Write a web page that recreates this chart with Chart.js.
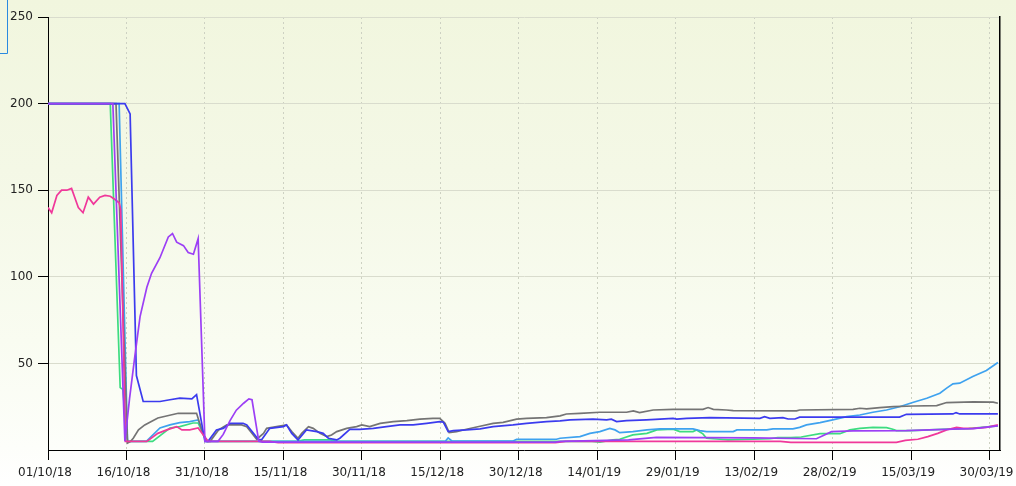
<!DOCTYPE html>
<html><head><meta charset="utf-8">
<script src="https://cdn.jsdelivr.net/npm/chart.js@4.4.0/dist/chart.umd.min.js"></script>
<style>
html,body{margin:0;padding:0;}
body{width:1016px;height:486px;overflow:hidden;background:linear-gradient(to bottom,#f1f6de 0%,#f4f8e6 35%,#f9fcf1 70%,#fdfefa 92%,#ffffff 100%);}
canvas{display:block;}
</style></head><body>
<canvas id="c" width="1016" height="486"></canvas>
<script>
// x values are days since 01/10/18
const tickDays = [0,15,30,45,60,75,90,105,120,135,150,165,180];
const tickLabels = ['01/10/18','16/10/18','31/10/18','15/11/18','30/11/18','15/12/18','30/12/18','14/01/19','29/01/19','13/02/19','28/02/19','15/03/19','30/03/19'];
const yTickValues = [0,50,100,150,200,250];

const purpleSeries = [[0,200],[12.4,200],[14.7,5],[15.6,30],[16.6,54],[17.6,77],[18.9,94],[19.8,102],[21.4,111],[23,123],[23.8,125],[24.6,120],[25.9,118],[26.8,114],[27.8,113],[28.7,122],[30,5],[32.5,5],[33.5,9],[34.8,17],[36,23],[37.4,27],[38.4,29.5],[39,29],[40.3,5],[41,4.5],[97,4.5],[98,5],[111,5.8],[116.3,7.3],[134.8,7],[146.9,6.5],[149.8,10.6],[153.9,11],[164.1,11.2],[173,12],[176.9,12.3],[181.6,13.9]];

const pinkSeries = [[0,140],[0.7,137],[1.7,147],[2.6,150],[3.6,150],[4.5,151],[5.8,140],[6.7,137],[7.7,146],[8.7,142],[9.9,146],[10.9,147],[11.9,146.5],[12.8,144.6],[13.6,142.7],[13.9,139],[14.8,5],[18.9,5],[21,9.6],[22.7,11.6],[24.6,13.5],[25.6,11.6],[27.1,11.6],[28.7,12.7],[30.6,5],[42.4,5],[44,4.2],[97,4.2],[99,5],[140,5],[142,4.4],[162.2,4.4],[163.9,5.6],[166.3,6.2],[168.2,7.7],[170.1,9.6],[171.8,11.6],[173.7,13.1],[175,12.5],[176.9,12.5],[179.4,13.1],[181.6,14.5]];

const blueSeries = [[0,200],[14.7,200],[15.7,194],[16.9,43],[18.2,28],[21.4,28],[23.3,29],[25.2,30],[27.5,29.5],[28.4,32],[30,5],[30.6,5],[32.2,11.6],[33.5,12.5],[34.8,15.4],[37.3,15.4],[38,14.5],[40.2,6.2],[40.8,5.8],[42.4,12.5],[45,13.5],[45.6,14.5],[46.6,9.6],[47.8,5.8],[49.4,11.6],[51.4,10.6],[52.6,9.6],[53.6,6.8],[55.2,5.8],[55.8,6.8],[57.7,11.9],[59.6,11.9],[62.2,12.5],[64.7,13.5],[67.3,14.5],[69.8,14.5],[72.4,15.4],[74.9,16.4],[75.6,16],[76.5,10.6],[77.5,11.2],[80,11.6],[82.6,12.2],[85.1,13.5],[88.9,14.5],[91.5,15.4],[95.3,16.4],[97.9,16.8],[99.8,17.4],[104.2,17.8],[106.8,17.4],[107.7,17.8],[108.7,16.4],[110.6,17],[114.4,17.4],[117,17.8],[119.5,18.3],[120.2,17.8],[122.1,18.3],[126.5,18.7],[136.1,18.3],[137,19.2],[138,18.3],[140.5,18.7],[141.5,17.9],[142.8,17.9],[143.7,19],[162.8,19],[164.1,20.6],[173,20.8],[173.6,21.6],[174.3,20.8],[181.6,20.8]];

const graySeries = [[0,200],[13,200],[15.2,4],[15.8,5],[16.3,6.8],[17.3,11.6],[18.5,14.5],[21,18.5],[24.9,21.2],[28.4,21.2],[29.7,8.7],[30.5,5],[31,5],[32.6,11.6],[34.2,14.5],[37,14.5],[38,13.5],[39.9,6.2],[41.2,9.6],[41.8,12.5],[43.7,13.5],[45.6,14.5],[46.6,10.6],[47.8,6.8],[48.5,9.6],[49.8,13.5],[50.7,12.5],[52,9.6],[53.3,7.7],[54.2,8.7],[55.2,10.6],[57.1,12.5],[59,13.5],[60,14.5],[61.5,13.5],[63.5,15.4],[66,16.4],[68.6,17],[71.1,17.8],[73.6,18.3],[74.9,18.3],[75.9,15.4],[76.7,10],[78.1,10.6],[80,12],[82.6,13.7],[85.1,15.4],[87,16],[89.6,17.8],[91.5,18.3],[95.3,18.7],[97.9,19.7],[99.1,20.8],[101.7,21.2],[105.5,21.8],[110.6,21.8],[111.9,22.6],[113.1,21.6],[115.7,23.1],[119.5,23.5],[125.2,23.5],[126.2,24.5],[127.2,23.5],[129.7,23.1],[131,22.7],[143.1,22.6],[143.7,23.1],[153.9,23.5],[155.2,24.1],[156.5,23.7],[159,24.5],[161.6,25],[165.4,25.4],[169.9,25.6],[171.8,27.4],[176.9,27.8],[180.7,27.6],[181.6,27]];

const lightBlueSeries = [[0,200],[13.6,200],[15.2,5],[18.8,5],[21.4,12.7],[23.3,14.5],[25.2,15.8],[27.1,16.4],[28.7,17.3],[30.3,5],[76,5.2],[76.5,7],[77.2,5.2],[88.9,5.2],[89.6,6.2],[97.2,6.2],[97.9,6.8],[101.7,7.7],[103.6,9.6],[105.5,10.6],[107.4,12.5],[108.4,11.6],[109.3,10],[111.8,10.6],[114.5,11.6],[117,12.2],[123.3,12.2],[124.6,11.2],[125.9,10.6],[131,10.6],[131.7,11.6],[137.4,11.6],[138.6,12.2],[142.4,12.2],[143.7,13.1],[145,14.5],[147.6,15.8],[150,17.4],[152.7,19.3],[155.2,20.2],[157.7,21.8],[160.3,23.1],[162.8,25],[165.3,27.4],[168,29.9],[170.5,32.8],[171.8,35.7],[173,38.2],[174.3,38.6],[176.8,42.4],[179.4,45.9],[181.6,50.5]];

const greenSeries = [[0,200],[11.9,200],[13.8,36],[14.3,35],[15.2,5],[20,5],[23.3,12.7],[25.2,13.5],[27.7,15.6],[28.7,15.6],[30.3,5],[47.6,5],[49,5.8],[54,5.8],[55,5],[104,5],[105.5,4.6],[108,5.8],[109.3,6.2],[111.8,8.7],[114.5,9.6],[116.4,11.6],[119.5,12],[120.8,10.6],[123.3,10.6],[124,11.6],[125.2,9.3],[125.9,6.8],[128.4,6.2],[130,5.8],[138,6.5],[139.5,7.1],[142,7.1],[144,7.5],[147.6,9.4],[151.4,9.4],[153.3,11.6],[155.2,12.5],[157.7,13.1],[160.3,12.9],[161.5,12],[162.2,11.2],[165,11.2],[172,12],[176,12.3],[181.6,13.9]];

const seriesList = [
  {name:'purple', data: purpleSeries, color:'#9c3ff5'},
  {name:'pink', data: pinkSeries, color:'#f0389a'},
  {name:'blue', data: blueSeries, color:'#3b3bee'},
  {name:'gray', data: graySeries, color:'#747474'},
  {name:'lightblue', data: lightBlueSeries, color:'#3ea2ef'},
  {name:'green', data: greenSeries, color:'#3ddc80'}
];

const cornerMark = {
  id:'cornerMark',
  afterDraw(chart){
    const ctx = chart.ctx;
    ctx.save();
    ctx.strokeStyle = '#2a8ae0';
    ctx.lineWidth = 1;
    ctx.beginPath();
    ctx.moveTo(7.5,0); ctx.lineTo(7.5,53.5); ctx.lineTo(0,53.5);
    ctx.stroke();
    ctx.restore();
  }
};

const font = {family:'"DejaVu Sans", Verdana, sans-serif', size:12};

new Chart(document.getElementById('c'), {
  type:'line',
  data:{
    datasets: seriesList.map(s => ({
      label: s.name,
      data: s.data.map(p => ({x:p[0], y:p[1]})),
      borderColor: s.color,
      backgroundColor: s.color,
      borderWidth: 1.7,
      pointRadius: 0,
      tension: 0,
      fill: false
    }))
  },
  options:{
    responsive:false,
    devicePixelRatio:1,
    animation:false,
    parsing:true,
    layout:{padding:{top:17,left:0,right:0,bottom:0}},
    plugins:{legend:{display:false}, tooltip:{enabled:false}},
    scales:{
      x:{
        type:'linear', min:0, max:182,
        afterBuildTicks(scale){ scale.ticks = tickDays.map(v => ({value:v})); },
        afterFit(scale){ scale.height = 36; scale.paddingLeft = 0; scale.paddingRight = 0; },
        ticks:{ autoSkip:false, maxRotation:0, minRotation:0, padding:6, labelOffset:-3, color:'#222', font,
          callback:(v,i) => tickLabels[tickDays.indexOf(v)] },
        grid:{ color:'#cdd1c2', lineWidth:1, tickLength:10, tickColor:'#000', tickWidth:1, tickBorderDash:[] },
        border:{ display:true, color:'#000', width:1, dash:[2,3] }
      },
      y:{
        type:'linear', min:0, max:250, position:'left',
        afterBuildTicks(scale){ scale.ticks = yTickValues.map(v => ({value:v})); },
        afterFit(scale){ scale.width = 48; scale.paddingTop = 0; scale.paddingBottom = 0; },
        ticks:{ padding:5, color:'#222', font, callback:v => v === 0 ? '' : String(v) },
        grid:{ color: c => c.tick && c.tick.value === 0 ? 'rgba(0,0,0,0)' : '#d9dccd', lineWidth:1, tickLength:10,
          tickColor: c => c.tick && c.tick.value === 0 ? 'rgba(0,0,0,0)' : '#000', tickWidth:1, tickBorderDash:[] },
        border:{ display:true, color:'#000', width:1 }
      },
      y2:{
        type:'linear', min:0, max:250, position:'right',
        afterFit(scale){ scale.width = 16; scale.paddingTop = 0; scale.paddingBottom = 0; },
        ticks:{ display:false },
        grid:{ drawOnChartArea:false, drawTicks:false },
        border:{ display:true, color:'#000', width:1.5 }
      }
    }
  },
  plugins:[cornerMark]
});
</script>
</body></html>
